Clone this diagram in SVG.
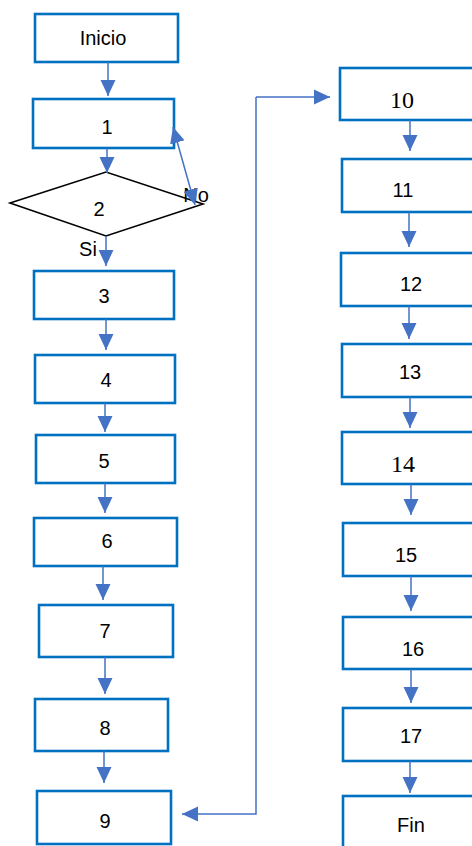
<svg xmlns="http://www.w3.org/2000/svg" width="472" height="846" viewBox="0 0 472 846">
<defs>
<marker id="ah" markerUnits="userSpaceOnUse" markerWidth="16" markerHeight="16" viewBox="0 0 15 14" refX="15" refY="7" orient="auto-start-reverse">
<path d="M0,0 L15,7 L0,14 Z" fill="#4472C4"/>
</marker>
<style>
.box{fill:#fff;stroke:#0070C0;stroke-width:2.6}
.dia{fill:#fff;stroke:#000;stroke-width:1.6}
.t{font-family:"Liberation Sans",Arial,sans-serif;font-size:20px;fill:#000;text-anchor:middle}
.s{font-family:"Liberation Serif","Times New Roman",serif;font-size:24px;fill:#000;text-anchor:middle}
.c{fill:none;stroke:#4472C4;stroke-width:1.5;marker-end:url(#ah)}
</style>
</defs>
<rect width="472" height="846" fill="#fff"/>
<g id="inicio"><rect class="box" x="35" y="14" width="143" height="48"/><text class="t" x="103" y="45">Inicio</text></g>
<g id="n1"><rect class="box" x="33" y="99" width="141" height="49"/><text class="t" x="107" y="134">1</text></g>
<g id="n2"><polygon class="dia" points="10,203 106,172 203,204 106,236"/><text class="t" x="99" y="216">2</text></g>
<g id="lbl-no"><text class="t" x="196" y="202">No</text></g>
<g id="lbl-si"><text class="t" x="88" y="256">Si</text></g>
<g id="n3"><rect class="box" x="34" y="271" width="140" height="48"/><text class="t" x="104" y="303">3</text></g>
<g id="n4"><rect class="box" x="35" y="355" width="140" height="48"/><text class="t" x="106" y="387">4</text></g>
<g id="n5"><rect class="box" x="36" y="435" width="139" height="48"/><text class="t" x="104" y="468">5</text></g>
<g id="n6"><rect class="box" x="34" y="518" width="143" height="48"/><text class="t" x="107" y="548">6</text></g>
<g id="n7"><rect class="box" x="39" y="605" width="134" height="52"/><text class="t" x="105" y="638">7</text></g>
<g id="n8"><rect class="box" x="35" y="699" width="133" height="52"/><text class="t" x="105" y="735">8</text></g>
<g id="n9"><rect class="box" x="37" y="791" width="134" height="53"/><text class="t" x="105" y="828">9</text></g>
<g id="n10"><rect class="box" x="340" y="68" width="150" height="52"/><text class="s" x="402" y="108">10</text></g>
<g id="n11"><rect class="box" x="342" y="159" width="150" height="53"/><text class="t" x="403" y="197">11</text></g>
<g id="n12"><rect class="box" x="341" y="253" width="150" height="53"/><text class="t" x="411" y="291">12</text></g>
<g id="n13"><rect class="box" x="342" y="344" width="150" height="53"/><text class="t" x="410" y="379">13</text></g>
<g id="n14"><rect class="box" x="342" y="432" width="150" height="52"/><text class="s" x="403" y="472">14</text></g>
<g id="n15"><rect class="box" x="343" y="523" width="150" height="53"/><text class="t" x="406" y="562">15</text></g>
<g id="n16"><rect class="box" x="343" y="617" width="150" height="52"/><text class="t" x="413" y="656">16</text></g>
<g id="n17"><rect class="box" x="343" y="708" width="150" height="53"/><text class="t" x="411" y="743">17</text></g>
<g id="fin"><rect class="box" x="343" y="796" width="150" height="60"/><text class="t" x="411" y="832">Fin</text></g>
<g id="connectors">
<line class="c" x1="108" y1="62" x2="108" y2="96"/>
<line class="c" x1="107" y1="148" x2="107" y2="173"/>
<line class="c" x1="195" y1="205" x2="173" y2="127" style="marker-start:url(#ah)"/>
<line class="c" x1="106" y1="236" x2="106" y2="266"/>
<line class="c" x1="106" y1="319" x2="106" y2="350"/>
<line class="c" x1="105" y1="403" x2="105" y2="432"/>
<line class="c" x1="105" y1="483" x2="105" y2="513"/>
<line class="c" x1="103" y1="566" x2="103" y2="600"/>
<line class="c" x1="105" y1="657" x2="105" y2="694"/>
<line class="c" x1="104" y1="751" x2="104" y2="783"/>
<polyline class="c" points="256,97 256,814 182,814"/>
<line class="c" x1="256" y1="97" x2="330" y2="97"/>
<line class="c" x1="410" y1="120" x2="410" y2="151"/>
<line class="c" x1="409" y1="212" x2="409" y2="247"/>
<line class="c" x1="409" y1="306" x2="409" y2="339"/>
<line class="c" x1="410" y1="397" x2="410" y2="428"/>
<line class="c" x1="411" y1="484" x2="411" y2="515"/>
<line class="c" x1="411" y1="576" x2="411" y2="611"/>
<line class="c" x1="411" y1="669" x2="411" y2="703"/>
<line class="c" x1="410" y1="761" x2="410" y2="793"/>
</g>
</svg>
